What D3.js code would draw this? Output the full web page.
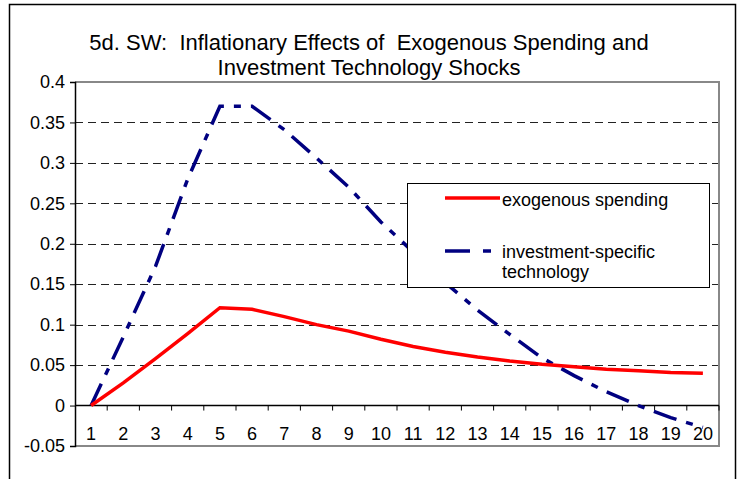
<!DOCTYPE html>
<html>
<head>
<meta charset="utf-8">
<script src="https://cdn.jsdelivr.net/npm/d3@7"></script>
<style>
  body { margin: 0; background: #fff; }
  text { font-family: "Liberation Sans", Arial, sans-serif; fill: #000; white-space: pre; }
</style>
</head>
<body>
<div id="chart"></div>
<script>
// periods after the shock
const periods = d3.range(1, 21);

// exogenous spending shock
const spending = [0, 0.028, 0.058, 0.089, 0.121, 0.119, 0.11, 0.1, 0.092, 0.082,
    0.073, 0.066, 0.06, 0.055, 0.051, 0.048, 0.045, 0.043, 0.041, 0.04];

// investment-specific technology shock
const investment = [0, 0.085, 0.172, 0.28, 0.37, 0.37, 0.341, 0.306, 0.27, 0.227,
    0.19, 0.152, 0.118, 0.088, 0.059, 0.037, 0.017, 0, -0.015, -0.027];

const yTicks = [-0.05, 0, 0.05, 0.1, 0.15, 0.2, 0.25, 0.3, 0.35, 0.4];

const titleLines = ["5d. SW:  Inflationary Effects of  Exogenous Spending and",
    "Investment Technology Shocks"];

const W = 743, H = 479;
const margin = {top: 82, right: 24, bottom: 33, left: 75};
const width = W - margin.left - margin.right,
    height = H - margin.top - margin.bottom;

const svg = d3.select("#chart")
    .append("svg")
    .attr("width", W)
    .attr("height", H);

// chart area border
svg.append("rect")
    .attr("x", 9.5).attr("y", 4.5)
    .attr("width", 726).attr("height", 500)
    .attr("fill", "none")
    .attr("stroke", "#000")
    .attr("stroke-width", 1.5);

svg.selectAll("text.title")
    .data(titleLines)
    .enter()
    .append("text")
    .attr("class", "title")
    .attr("x", 369)
    .attr("y", function(d, i) { return 50 + i * 25; })
    .attr("text-anchor", "middle")
    .style("font-size", "22px")
    .text(function(d) { return d; });

const g = svg.append("g")
    .attr("transform", "translate(" + margin.left + "," + margin.top + ")");

const x = d3.scaleBand()
    .domain(periods)
    .range([0, width]);

const y = d3.scaleLinear()
    .domain([-0.05, 0.4])
    .range([height, 0]);

// dashed gridlines
g.selectAll("line.grid")
    .data(yTicks.filter(function(d) { return d > 0 && d < 0.4; }))
    .enter()
    .append("line")
    .attr("class", "grid")
    .attr("x1", 0).attr("x2", width)
    .attr("y1", function(d) { return Math.round(y(d)) + 0.5; })
    .attr("y2", function(d) { return Math.round(y(d)) + 0.5; })
    .attr("stroke", "#222")
    .attr("stroke-dasharray", "8,5");

// plot area border (top, right, bottom)
g.append("path")
    .attr("d", "M0," + y(0.4) + "H" + width + "V" + height + "H0")
    .attr("fill", "none")
    .attr("stroke", "#888")
    .attr("stroke-width", 2);

// y axis
const yAxis = g.append("g")
    .call(d3.axisLeft(y).tickValues(yTicks).tickSize(5).tickPadding(5)
        .tickFormat(function(d) { return d3.format("")(+d.toFixed(2)); }));
yAxis.select(".domain").attr("stroke-width", 1.5);
yAxis.selectAll("text")
    .style("font-size", "18px")
    .style("font-family", "'Liberation Sans', Arial, sans-serif")
    .text(function(d) { return String(+d.toFixed(2)).replace("\u2212", "-"); });

// x axis sitting on zero
const xAxis = g.append("g")
    .attr("transform", "translate(0," + y(0) + ")");
xAxis.append("line")
    .attr("x1", 0).attr("x2", width)
    .attr("stroke", "#000").attr("stroke-width", 1.5);
xAxis.selectAll("line.tick")
    .data(periods)
    .enter()
    .append("line")
    .attr("class", "tick")
    .attr("x1", function(d) { return x(d) + x.bandwidth(); })
    .attr("x2", function(d) { return x(d) + x.bandwidth(); })
    .attr("y1", 0).attr("y2", 5)
    .attr("stroke", "#000");
xAxis.selectAll("text")
    .data(periods)
    .enter()
    .append("text")
    .attr("x", function(d) { return x(d) + x.bandwidth() / 2; })
    .attr("y", 34)
    .attr("text-anchor", "middle")
    .style("font-size", "18px")
    .text(function(d) { return d; });

const line = function(values) {
    return d3.line()
        .x(function(d, i) { return x(periods[i]) + x.bandwidth() / 2; })
        .y(function(d) { return y(d); })(values);
};

g.append("path")
    .attr("d", line(investment))
    .attr("fill", "none")
    .attr("stroke", "#000080")
    .attr("stroke-width", 3.5)
    .attr("stroke-dasharray", "24,10,7,10");

g.append("path")
    .attr("d", line(spending))
    .attr("fill", "none")
    .attr("stroke", "#ff0000")
    .attr("stroke-width", 3.5);

// legend
const legend = svg.append("g");
legend.append("rect")
    .attr("x", 407.5).attr("y", 183.5)
    .attr("width", 302).attr("height", 104)
    .attr("fill", "#fff")
    .attr("stroke", "#000");
legend.append("line")
    .attr("x1", 445).attr("x2", 500)
    .attr("y1", 198).attr("y2", 198)
    .attr("stroke", "#ff0000").attr("stroke-width", 3.5);
legend.append("line")
    .attr("x1", 445).attr("x2", 492)
    .attr("y1", 251).attr("y2", 251)
    .attr("stroke", "#000080").attr("stroke-width", 3.5)
    .attr("stroke-dasharray", "25,13,8,20");
legend.append("text")
    .attr("x", 502).attr("y", 206)
    .style("font-size", "18px")
    .text("exogenous spending");
legend.append("text")
    .attr("x", 502).attr("y", 258)
    .style("font-size", "18px")
    .text("investment-specific");
legend.append("text")
    .attr("x", 502).attr("y", 278)
    .style("font-size", "18px")
    .text("technology");
</script>
</body>
</html>
